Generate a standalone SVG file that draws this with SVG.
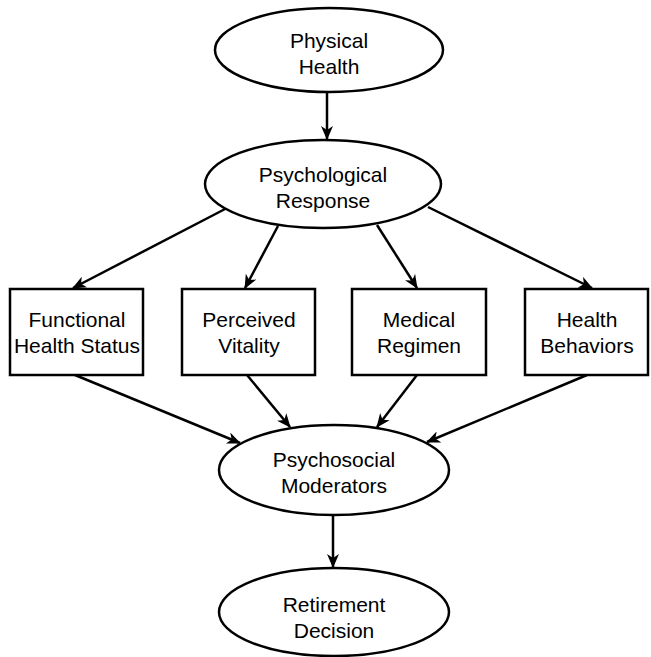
<svg xmlns="http://www.w3.org/2000/svg" width="651" height="657" viewBox="0 0 651 657">
<style>
.n{fill:#fff;stroke:#000;stroke-width:2.5}
.t{font-family:"Liberation Sans",Arial,sans-serif;font-size:21px;fill:#000;text-anchor:middle}
.c{stroke:#000;stroke-width:2.5;fill:none;marker-end:url(#ah)}
</style>
<defs>
<marker id="ah" viewBox="0 0 14 12" refX="13" refY="6" markerWidth="14" markerHeight="12" markerUnits="userSpaceOnUse" orient="auto">
<path d="M0,0 L14,6 L0,12 L4,6 z" fill="#000"/>
</marker>
</defs>
<rect width="651" height="657" fill="#fff"/>
<g id="connectors">
<line class="c" x1="327" y1="92" x2="327" y2="139"/>
<line class="c" x1="227" y1="208" x2="73" y2="288"/>
<line class="c" x1="278" y1="226" x2="245" y2="288"/>
<line class="c" x1="377" y1="225" x2="417" y2="288"/>
<line class="c" x1="428" y1="207" x2="592" y2="288"/>
<line class="c" x1="75" y1="375" x2="240" y2="443"/>
<line class="c" x1="247" y1="375" x2="290" y2="427"/>
<line class="c" x1="417" y1="375" x2="377" y2="427"/>
<line class="c" x1="587" y1="375" x2="427" y2="442"/>
<line class="c" x1="333" y1="515" x2="333" y2="567"/>
</g>
<g id="physical-health">
<ellipse class="n" cx="329" cy="50" rx="114" ry="42"/>
<text class="t" x="329" y="48">Physical</text>
<text class="t" x="329" y="74">Health</text>
</g>
<g id="psychological-response">
<ellipse class="n" cx="323" cy="184" rx="118" ry="44"/>
<text class="t" x="323" y="182">Psychological</text>
<text class="t" x="323" y="208">Response</text>
</g>
<g id="functional-health-status">
<rect class="n" x="10" y="289" width="133" height="86"/>
<text class="t" x="77" y="327">Functional</text>
<text class="t" x="77" y="353">Health Status</text>
</g>
<g id="perceived-vitality">
<rect class="n" x="182" y="289" width="133" height="86"/>
<text class="t" x="249" y="327">Perceived</text>
<text class="t" x="249" y="353">Vitality</text>
</g>
<g id="medical-regimen">
<rect class="n" x="352" y="289" width="134" height="86"/>
<text class="t" x="419" y="327">Medical</text>
<text class="t" x="419" y="353">Regimen</text>
</g>
<g id="health-behaviors">
<rect class="n" x="525" y="289" width="123" height="86"/>
<text class="t" x="587" y="327">Health</text>
<text class="t" x="587" y="353">Behaviors</text>
</g>
<g id="psychosocial-moderators">
<ellipse class="n" cx="334" cy="470" rx="115" ry="45"/>
<text class="t" x="334" y="467">Psychosocial</text>
<text class="t" x="334" y="493">Moderators</text>
</g>
<g id="retirement-decision">
<ellipse class="n" cx="334" cy="612" rx="115" ry="44"/>
<text class="t" x="334" y="612">Retirement</text>
<text class="t" x="334" y="638">Decision</text>
</g>
</svg>
